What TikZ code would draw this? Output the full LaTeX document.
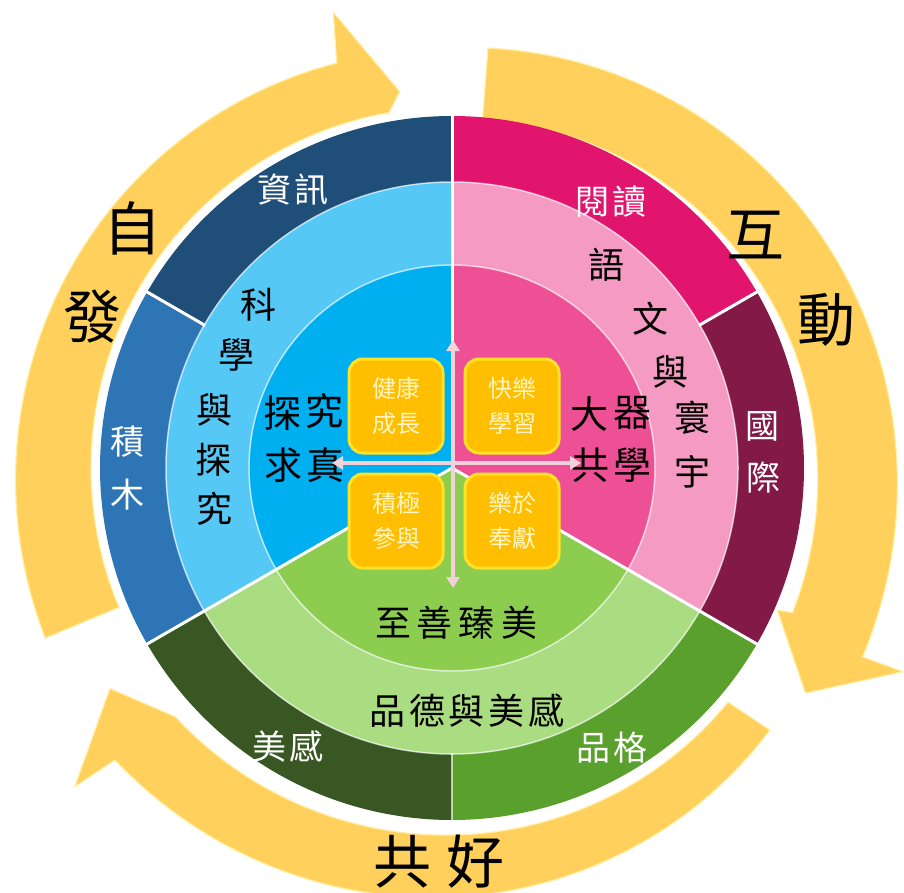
\documentclass[tikz,border=0pt]{standalone}
\usepackage{fontspec}
\newfontfamily\cjk{Noto Sans CJK TC}
\usetikzlibrary{arrows.meta}
\definecolor{navyc}{RGB}{31,78,121}
\definecolor{bluec}{RGB}{46,117,182}
\definecolor{lbluec}{RGB}{85,200,245}
\definecolor{ibluec}{RGB}{0,175,239}
\definecolor{magentac}{RGB}{225,20,110}
\definecolor{maroonc}{RGB}{130,25,70}
\definecolor{lpinkc}{RGB}{245,155,195}
\definecolor{ipinkc}{RGB}{238,80,150}
\definecolor{dgreenc}{RGB}{56,87,35}
\definecolor{mgreenc}{RGB}{90,160,45}
\definecolor{lgreenc}{RGB}{170,220,130}
\definecolor{igreenc}{RGB}{140,205,80}
\definecolor{arrowc}{RGB}{255,208,92}
\definecolor{arrowedge}{RGB}{255,240,165}
\definecolor{boxfill}{RGB}{255,190,0}
\definecolor{boxedge}{RGB}{255,226,40}
\definecolor{boxtext}{RGB}{255,246,195}
\definecolor{crossc}{RGB}{242,210,218}
\newcommand\ringseg[5]{\fill[#1] (#2:#4) arc[start angle=#2,end angle=#3,radius=#4] -- (#3:#5) arc[start angle=#3,end angle=#2,radius=#5] -- cycle;}
\newcommand\pieseg[4]{\fill[#1] (0,0) -- (#2:#4) arc[start angle=#2,end angle=#3,radius=#4] -- cycle;}
\begin{document}
\begin{tikzpicture}[x=1pt,y=-1pt,
  arrowsty/.style={fill=arrowc, draw=arrowedge, line width=1.2pt, line join=round},
  sepline/.style={draw=white, line width=3pt},
  ringline/.style={draw=white, line width=1.5pt, opacity=0.65},
  bigtxt/.style={font=\cjk\fontsize{58}{58}\selectfont, text=black, inner sep=0pt},
  wtxt/.style={font=\cjk\fontsize{34}{34}\selectfont, text=white, inner sep=0pt},
  ktxt/.style={font=\cjk\fontsize{36}{36}\selectfont, text=black, inner sep=0pt},
  ctxt/.style={font=\cjk\fontsize{38}{38}\selectfont, text=black, inner sep=0pt},
  boxsty/.style={draw=boxedge, line width=3pt, fill=boxfill, rounded corners=14pt,
    minimum width=94pt, minimum height=94pt, text=boxtext, align=center,
    font=\cjk\fontsize{24}{35}\selectfont, inner sep=0pt},
  crosssty/.style={draw=crossc, line width=4pt, {Triangle[length=11pt,width=13pt]}-{Triangle[length=11pt,width=13pt]}}
]
\useasboundingbox (0,0) rectangle (904,893);
\fill[white] (0,0) rectangle (904,893);
\begin{scope}[shift={(452,468)},y=1pt]
  % yellow circular arrows
  \filldraw[arrowsty] plot[domain=202.7:105.9, samples=80] (\x:{441-20*(202.7-(\x))/96.8})
     -- (104.6:471) -- (97.9:380) -- (100.3:359)
     -- plot[domain=100.3:202.7, samples=80] (\x:{361}) -- cycle;
  \filldraw[arrowsty] plot[domain=85.1:-24.7, samples=80] (\x:{421.5+30.5*(85.1-(\x))/109.8})
     -- (-24.3:495) -- (-32.5:419) -- (-23.6:355)
     -- plot[domain=-23:85, samples=80] (\x:{370-21*((\x)+23)/108}) -- cycle;
  \filldraw[arrowsty] plot[domain=-39.5:-139.1, samples=80] (\x:{412+34*(-39.5-(\x))/99.6})
     -- (-139.8:494) -- (-147.2:407) -- (-138:372)
     -- plot[domain=-138:-40.3, samples=80] (\x:{372-10*((\x)+138)/97.7}) -- cycle;
  % outer ring
  \ringseg{navyc}{90}{150}{352}{286}
  \ringseg{bluec}{150}{210}{352}{286}
  \ringseg{dgreenc}{210}{270}{352}{286}
  \ringseg{mgreenc}{270}{330}{352}{286}
  \ringseg{maroonc}{-30}{30}{352}{286}
  \ringseg{magentac}{30}{90}{352}{286}
  % middle ring
  \ringseg{lbluec}{90}{210}{286}{203}
  \ringseg{lgreenc}{210}{330}{286}{203}
  \ringseg{lpinkc}{-30}{90}{286}{203}
  % inner disc
  \pieseg{ibluec}{90}{210}{203}
  \pieseg{igreenc}{210}{330}{203}
  \pieseg{ipinkc}{-30}{90}{203}
  % lines
  \draw[ringline] (0,0) circle[radius=286];
  \draw[ringline] (0,0) circle[radius=203];
  \draw[sepline] (0,0) -- (90:353);
  \draw[sepline] (0,0) -- (210:353);
  \draw[sepline] (0,0) -- (330:353);
  \draw[sepline] (150:285) -- (150:353);
  \draw[sepline] (30:285) -- (30:353);
  \draw[ringline] (270:285) -- (270:353);
\end{scope}

% outer labels
\node[bigtxt] (zi) at (132,228) {自};
\node[bigtxt] (fa) at (92,317) {發};
\node[bigtxt] (hu) at (755,235) {互};
\node[bigtxt] (dong) at (826,320) {動};
\node[bigtxt] (gong) at (402,862) {共};
\node[bigtxt] (hao) at (475,862) {好};

% outer ring labels
\node[wtxt] (zixun) at (293,190) {資\hspace{4pt}訊};
\node[wtxt] (ji) at (127,442) {積};
\node[wtxt] (mu) at (127,495) {木};
\node[wtxt] (yuedu) at (611,202) {閱\hspace{4pt}讀};
\node[wtxt] (guo) at (762,426) {國};
\node[wtxt] (jiguo) at (763,478) {際};
\node[wtxt] (meigan) at (288,746) {美\hspace{4pt}感};
\node[wtxt] (pinge) at (612,748) {品\hspace{4pt}格};

% middle ring labels
\node[ktxt] (ke) at (258,305) {科};
\node[ktxt] (xue) at (236,355) {學};
\node[ktxt] (yu1) at (214,410) {與};
\node[ktxt] (tan1) at (213,460) {探};
\node[ktxt] (jiu1) at (214,509) {究};
\node[ktxt] (yu2) at (606,265) {語};
\node[ktxt] (wen) at (650,319) {文};
\node[ktxt] (yu3) at (670,372) {與};
\node[ktxt] (huan) at (692,418) {寰};
\node[ktxt] (yuzhou) at (692,472) {宇};
\node[ktxt] (pinde) at (467,711) {品\hspace{4pt}德\hspace{4pt}與\hspace{4pt}美\hspace{4pt}感};

% inner disc labels
\node[ctxt] (tan2) at (282,413) {探};
\node[ctxt] (jiu2) at (324,411) {究};
\node[ctxt] (qiu) at (283,465) {求};
\node[ctxt] (zhen) at (325,465) {真};
\node[ctxt] (da) at (589,414) {大};
\node[ctxt] (qi) at (632,413) {器};
\node[ctxt] (gong2) at (590,465) {共};
\node[ctxt] (xue2) at (632,465) {學};
\node[ktxt] (zhishan) at (456,623) {至\hspace{6pt}善\hspace{6pt}臻\hspace{6pt}美};

% centre cross
\coordinate (cu) at (453,340);
\coordinate (cd) at (453,588);
\coordinate (cl) at (332,463);
\coordinate (cr) at (581,463);
\draw[crosssty] (cl) -- (cr);
\draw[crosssty] (cu) -- (cd);

% centre boxes
\node[boxsty] (b1) at (396,406) {健康\\成長};
\node[boxsty] (b2) at (512,406) {快樂\\學習};
\node[boxsty] (b3) at (396,521) {積極\\參與};
\node[boxsty] (b4) at (512,521) {樂於\\奉獻};
\end{tikzpicture}
\end{document}
